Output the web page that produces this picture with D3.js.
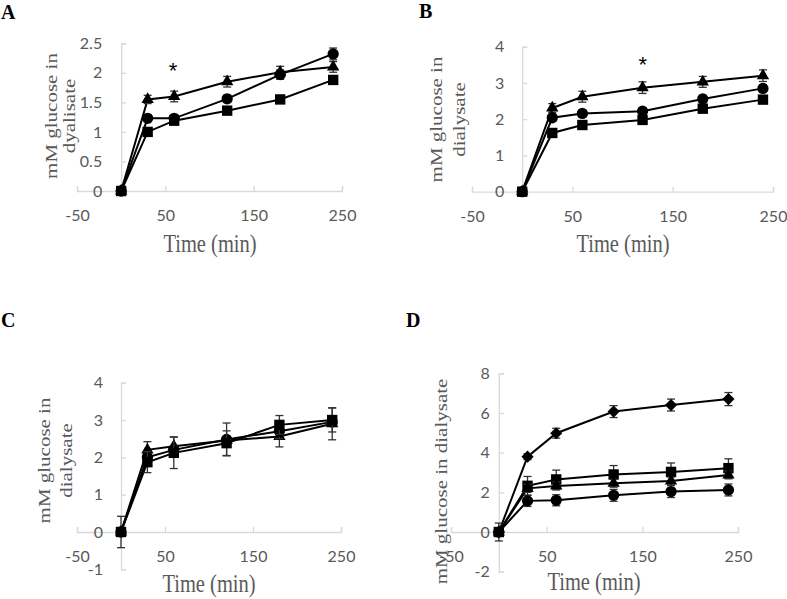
<!DOCTYPE html>
<html>
<head>
<meta charset="utf-8">
<script src="https://cdn.jsdelivr.net/npm/d3@7"></script>
<style>
  body { margin: 0; background: #fff; }
  svg { display: block; }
</style>
</head>
<body>
<script>
//sampling times (min), shared by every panel
var times = [0, 30, 60, 120, 180, 240];
var xTicks = [-50, 50, 150, 250];

//panel A
var aTriangle = [0, 1.55, 1.60, 1.85, 2.01, 2.10],
    aTriangleErr = [0, 0.07, 0.09, 0.09, 0.10, 0.09];
var aCircle = [0, 1.23, 1.23, 1.56, 1.97, 2.32],
    aCircleErr = [0, 0.05, 0.05, 0.06, 0.08, 0.10];
var aSquare = [0, 1.00, 1.19, 1.36, 1.55, 1.88],
    aSquareErr = [0, 0.04, 0.04, 0.05, 0.04, 0.06];
var aYTicks = [0, 0.5, 1, 1.5, 2, 2.5];

//panel B
var bTriangle = [0, 2.31, 2.62, 2.87, 3.03, 3.20],
    bTriangleErr = [0, 0.12, 0.15, 0.16, 0.15, 0.16];
var bCircle = [0, 2.04, 2.16, 2.22, 2.56, 2.85],
    bCircleErr = [0, 0.10, 0.10, 0.10, 0.10, 0.10];
var bSquare = [0, 1.62, 1.84, 1.98, 2.29, 2.54],
    bSquareErr = [0, 0.08, 0.08, 0.08, 0.10, 0.10];
var bYTicks = [0, 1, 2, 3, 4];

//panel C
var cTriangle = [0, 2.20, 2.30, 2.45, 2.56, 2.90],
    cTriangleErr = [0.10, 0.22, 0.25, 0.10, 0.28, 0.43];
var cCircle = [0, 2.00, 2.20, 2.48, 2.70, 2.95],
    cCircleErr = [0.42, 0.10, 0.12, 0.44, 0.20, 0.10];
var cSquare = [0, 1.87, 2.12, 2.38, 2.87, 3.00],
    cSquareErr = [0.10, 0.28, 0.42, 0.33, 0.25, 0.32];
var cYTicks = [-1, 0, 1, 2, 3, 4];

//panel D
var dDiamond = [0, 3.80, 4.98, 6.07, 6.40, 6.70],
    dDiamondErr = [0, 0.15, 0.25, 0.30, 0.30, 0.33];
var dSquare = [0, 2.33, 2.65, 2.90, 3.03, 3.22],
    dSquareErr = [0.45, 0.47, 0.47, 0.45, 0.45, 0.47];
var dTriangle = [0, 2.20, 2.32, 2.46, 2.57, 2.88],
    dTriangleErr = [0, 0.20, 0.20, 0.20, 0.20, 0.20];
var dCircle = [0, 1.57, 1.60, 1.85, 2.04, 2.12],
    dCircleErr = [0, 0.28, 0.28, 0.30, 0.30, 0.30];
var dYTicks = [-2, 0, 2, 4, 6, 8];

window.onload = setChart();

function setChart(){
    var width = 787,
        height = 599;

    var svg = d3.select("body")
        .append("svg")
        .attr("width", width)
        .attr("height", height);

    //the original figure is a bit stretched vertically, so the serif titles are too
    var stretch = 1.2;

    //plain hyphen for negatives, like the original (d3.format gives a unicode minus)
    var plain = function(d){ return String(d); };

    //symbol generators
    var shapes = {
        triangle: d3.symbol(d3.symbolTriangle, 66),
        circle: d3.symbol(d3.symbolCircle, 100),
        square: d3.symbol(d3.symbolSquare, 108),
        diamond: d3.symbol(d3.symbolSquare, 74)
    };

    var panels = [
        {letter: "A", letterPos: [1, 19], xRange: [77, 342], yDomain: [0, 2.5], yRange: [191, 43.3],
         yTicks: aYTicks, labelPad: 19,
         yTitle: ["mM glucose in", "dyalisate"], yTitleX: [57, 75], yTitleY: 116,
         xTitle: [210, 251.5], star: [173, 78],
         series: [
            {shape: "triangle", values: aTriangle, err: aTriangleErr},
            {shape: "circle", values: aCircle, err: aCircleErr},
            {shape: "square", values: aSquare, err: aSquareErr}
         ]},
        {letter: "B", letterPos: [419, 17.5], xRange: [472, 773], yDomain: [0, 4], yRange: [191.7, 46.7],
         yTicks: bYTicks, labelPad: 18,
         yTitle: ["mM glucose in", "dialysate"], yTitleX: [442, 465], yTitleY: 119.5,
         xTitle: [623, 251.5], star: [642.7, 72],
         series: [
            {shape: "triangle", values: bTriangle, err: bTriangleErr},
            {shape: "circle", values: bCircle, err: bCircleErr},
            {shape: "square", values: bSquare, err: bSquareErr}
         ]},
        {letter: "C", letterPos: [1, 327], xRange: [77, 341], yDomain: [-1, 4], yRange: [569.3, 382.7],
         yTicks: cYTicks, labelPad: 18,
         yTitle: ["mM glucose in", "dialysate"], yTitleX: [50, 72], yTitleY: 460.5,
         xTitle: [209, 591.5], star: null,
         series: [
            {shape: "triangle", values: cTriangle, err: cTriangleErr},
            {shape: "circle", values: cCircle, err: cCircleErr},
            {shape: "square", values: cSquare, err: cSquareErr}
         ]},
        {letter: "D", letterPos: [406, 327], xRange: [451, 738], yDomain: [-2, 8], yRange: [571.7, 373.3],
         yTicks: dYTicks, labelPad: 9,
         yTitle: ["mM glucose in dialysate"], yTitleX: [446.7], yTitleY: 481.5,
         xTitle: [594, 590], star: null,
         series: [
            {shape: "diamond", values: dDiamond, err: dDiamondErr},
            {shape: "square", values: dSquare, err: dSquareErr},
            {shape: "triangle", values: dTriangle, err: dTriangleErr},
            {shape: "circle", values: dCircle, err: dCircleErr}
         ]}
    ];

    panels.forEach(function(p){
        var x = d3.scaleLinear().domain([-50, 250]).range(p.xRange);
        var y = d3.scaleLinear().domain(p.yDomain).range(p.yRange);
        var g = svg.append("g");

        //x axis crosses at y = 0, ticks point up
        var xAxis = g.append("g")
            .attr("transform", "translate(0," + y(0) + ")")
            .call(d3.axisBottom(x).tickValues(xTicks).tickSizeInner(-5).tickSizeOuter(-5).tickPadding(19).tickFormat(plain));

        //y axis sits at x = 0, ticks point right
        var yAxis = g.append("g")
            .attr("transform", "translate(" + x(0) + ",0)")
            .call(d3.axisLeft(y).tickValues(p.yTicks).tickSizeInner(-5).tickSizeOuter(-5).tickPadding(p.labelPad).tickFormat(plain));

        [xAxis, yAxis].forEach(function(a){
            a.selectAll("path, line").attr("stroke", "#d9d9d9").attr("stroke-width", 1.3);
            a.selectAll("text")
                .attr("fill", "#595959")
                .style("font-family", "Lato, 'Open Sans', sans-serif")
                .style("font-size", "16px");
        });

        //series: line, error bars, markers
        p.series.forEach(function(s){
            var pts = times.map(function(t, i){ return {t: t, v: s.values[i], e: s.err[i]}; });

            var line = d3.line()
                .x(function(d){ return x(d.t); })
                .y(function(d){ return y(d.v); });

            g.append("path")
                .datum(pts)
                .attr("fill", "none")
                .attr("stroke", "#000")
                .attr("stroke-width", 2)
                .attr("d", line);

            var bars = g.selectAll(null)
                .data(pts.filter(function(d){ return d.e > 0; }))
                .enter()
                .append("g")
                .attr("stroke", "#333")
                .attr("stroke-width", 1.3);
            bars.append("line")
                .attr("x1", function(d){ return x(d.t); })
                .attr("x2", function(d){ return x(d.t); })
                .attr("y1", function(d){ return y(d.v - d.e); })
                .attr("y2", function(d){ return y(d.v + d.e); });
            [-1, 1].forEach(function(sign){
                bars.append("line")
                    .attr("x1", function(d){ return x(d.t) - 4; })
                    .attr("x2", function(d){ return x(d.t) + 4; })
                    .attr("y1", function(d){ return y(d.v + sign * d.e); })
                    .attr("y2", function(d){ return y(d.v + sign * d.e); });
            });

            g.selectAll(null)
                .data(pts)
                .enter()
                .append("path")
                .attr("fill", "#000")
                .attr("d", shapes[s.shape])
                .attr("transform", function(d){
                    var r = s.shape == "diamond" ? " rotate(45)" : "";
                    return "translate(" + x(d.t) + "," + y(d.v) + ")" + r;
                });
        });

        //panel letter
        svg.append("text")
            .attr("x", p.letterPos[0])
            .attr("y", p.letterPos[1])
            .style("font-family", "'Liberation Serif', 'Times New Roman', serif")
            .style("font-weight", "bold")
            .style("font-size", "20px")
            .text(p.letter);

        //axis titles
        svg.append("text")
            .attr("transform", "translate(" + p.xTitle[0] + "," + p.xTitle[1] + ") scale(1," + stretch + ")")
            .attr("text-anchor", "middle")
            .attr("fill", "#595959")
            .style("font-family", "'Liberation Serif', 'Times New Roman', serif")
            .style("font-size", "20.5px")
            .text("Time (min)");

        p.yTitle.forEach(function(t, i){
            svg.append("text")
                .attr("transform", "translate(" + p.yTitleX[i] + "," + p.yTitleY + ") scale(1," + stretch + ") rotate(-90)")
                .attr("text-anchor", "middle")
                .attr("fill", "#595959")
                .style("font-family", "'Liberation Serif', 'Times New Roman', serif")
                .style("font-size", "17.5px")
                .text(t);
        });

        if (p.star){
            svg.append("text")
                .attr("x", p.star[0])
                .attr("y", p.star[1])
                .attr("text-anchor", "middle")
                .style("font-family", "'Liberation Sans', Arial, sans-serif")
                .style("font-size", "22px")
                .text("*");
        }
    });
};
</script>
</body>
</html>
